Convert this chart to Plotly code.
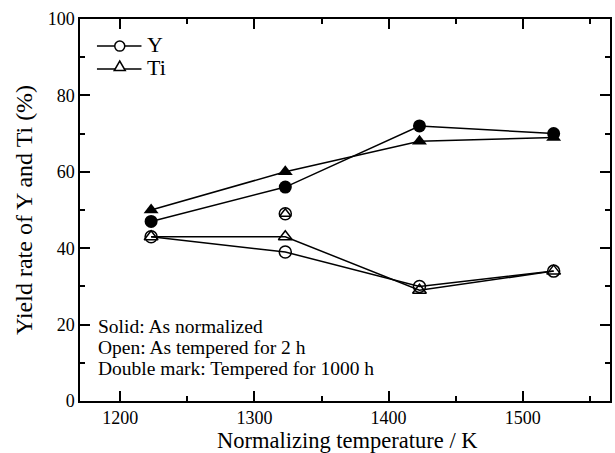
import plotly.graph_objects as go

# Normalizing temperatures (K)
temps = [1223, 1323, 1423, 1523]

# Yield rates (%)
y_normalized = [47, 56, 72, 70]
ti_normalized = [50, 60, 68, 69]
y_tempered_2h = [43, 39, 30, 34]
ti_tempered_2h = [43, 43, 29, 34]

# Tempered for 1000 h (double mark)
temp_1000h = [1323]
y_1000h = [49]
ti_1000h = [49]

legend_labels = ["Y", "Ti"]
notes = ["Solid: As normalized", "Open: As tempered for 2 h", "Double mark: Tempered for 1000 h"]
x_title = "Normalizing temperature / K"
y_title = "Yield rate of Y and Ti (%)"

FONT = "Times New Roman, Liberation Serif, serif"
LINE = dict(color="black", width=1.5)
OPEN = dict(color="black", width=1.5)

fig = go.Figure()

fig.add_trace(go.Scatter(
    x=temps, y=y_tempered_2h, mode="lines+markers", showlegend=False,
    line=LINE, marker=dict(symbol="circle-open", size=12, color="black", line=OPEN),
))
fig.add_trace(go.Scatter(
    x=temps, y=ti_tempered_2h, mode="lines+markers", showlegend=False,
    line=LINE, marker=dict(symbol="triangle-up-open", size=12, color="black", line=OPEN),
))
fig.add_trace(go.Scatter(
    x=temps, y=y_normalized, mode="lines+markers", showlegend=False,
    line=LINE, marker=dict(symbol="circle", size=13, color="black"),
))
fig.add_trace(go.Scatter(
    x=temps, y=ti_normalized, mode="lines+markers", showlegend=False,
    line=LINE, marker=dict(symbol="triangle-up", size=13, color="black"),
))
fig.add_trace(go.Scatter(
    x=temp_1000h, y=y_1000h, mode="markers", showlegend=False,
    marker=dict(symbol="circle-open", size=12, color="black", line=OPEN),
))
fig.add_trace(go.Scatter(
    x=temp_1000h, y=ti_1000h, mode="markers", showlegend=False,
    marker=dict(symbol="triangle-up-open", size=10, color="black", line=OPEN),
))

# Hand-drawn key: short line with an open symbol, followed by the element name
key_x0, key_x1, key_xm = 0.032, 0.116, 0.075
key_rows = [0.929, 0.869]
for i, (label, yk) in enumerate(zip(legend_labels, key_rows)):
    fig.add_shape(type="line", xref="paper", yref="paper",
                  x0=key_x0, x1=key_x1, y0=yk, y1=yk, line=LINE)
    if i == 0:
        fig.add_shape(type="circle", xref="paper", yref="paper",
                      xsizemode="pixel", ysizemode="pixel", xanchor=key_xm, yanchor=yk,
                      x0=-5, x1=5, y0=-5, y1=5,
                      line=OPEN, fillcolor="white")
    else:
        fig.add_shape(type="path", xref="paper", yref="paper",
                      xsizemode="pixel", ysizemode="pixel", xanchor=key_xm, yanchor=yk,
                      path="M -5.5,-1.5 L 5.5,-1.5 L 0,8 Z",
                      line=OPEN, fillcolor="white")
    fig.add_annotation(x=0.122, xref="paper", xanchor="left", y=yk + 0.004, yref="paper",
                       yanchor="middle", text=label, showarrow=False,
                       font=dict(family=FONT, size=22, color="black"))

note_rows = [0.194, 0.139, 0.086]
for txt, yn in zip(notes, note_rows):
    fig.add_annotation(
        x=0.031, xref="paper", xanchor="left",
        y=yn, yref="paper", yanchor="middle",
        text=txt, showarrow=False,
        font=dict(family=FONT, size=19.5, color="black"),
    )

# x-axis title set just below the tick labels
fig.add_annotation(
    x=0.505, xref="paper", xanchor="center",
    y=-0.067, yref="paper", yanchor="top",
    text=x_title, showarrow=False, borderpad=0,
    font=dict(family=FONT, size=22.5, color="black"),
)

axis_common = dict(
    showgrid=False, zeroline=False, showline=True, linecolor="black", linewidth=1.5,
    mirror="ticks", ticks="inside", ticklen=10, tickwidth=1.5, tickcolor="black",
    tickfont=dict(family=FONT, size=18, color="black"),
    minor=dict(ticks="inside", ticklen=5, tickwidth=1.5, tickcolor="black"),
)

fig.update_layout(
    width=615, height=453,
    margin=dict(l=80, r=3, t=19, b=52),
    paper_bgcolor="white", plot_bgcolor="white",
    font=dict(family=FONT, color="black"),
    showlegend=False,
    xaxis=dict(
        range=[1170, 1565], tickvals=[1200, 1300, 1400, 1500],
        minor_dtick=50, **axis_common,
    ),
    yaxis=dict(
        range=[0, 100], dtick=20,
        title=dict(text=y_title, font=dict(family=FONT, size=24), standoff=8),
        minor_dtick=10, **axis_common,
    ),
)

fig.write_html("out.html")
